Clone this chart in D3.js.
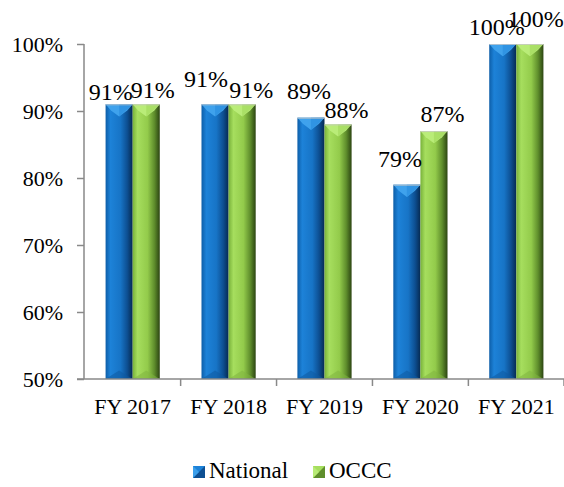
<!DOCTYPE html>
<html><head><meta charset="utf-8">
<script src="https://cdn.jsdelivr.net/npm/d3@7"></script>
<style>html,body{margin:0;padding:0;background:#fff;}svg{display:block;}
svg text{font-family:"Liberation Serif","DejaVu Serif","Times New Roman",serif;}</style>
</head><body>
<svg id="chart" width="564" height="487"></svg>
<script>
const categories = ["FY 2017","FY 2018","FY 2019","FY 2020","FY 2021"];
const seriesNames = ["National","OCCC"];
const national = [91, 91, 89, 79, 100];
const occc = [91, 91, 88, 87, 100];
const yTicks = [50, 60, 70, 80, 90, 100];

// layout / style constants
const W = 564, H = 487;
const plot = {left: 84, right: 565, top: 44, bottom: 379};
const labelNudge = { // [dx, gap above bar] per series per category
  National: [[-8.5,4],[-9,17],[-2,19],[-7,18],[-6,9]],
  OCCC: [[6.5,6],[9,6],[8.5,6],[8.6,9],[6,17]]
};
const palette = {
  National: {stops:["#0d5ea8","#1d82d8","#1774c6","#0d4f92","#062a52"], top:"#44a6f0", topEdge:"#2b8ee0", bottom:"#0f5aa0"},
  OCCC: {stops:["#78b23a","#a6de5e","#93cb4b","#5f8e2c","#2c4512"], top:"#bdee7c", topEdge:"#a4dc60", bottom:"#7fb43f"}
};

const svg = d3.select("#chart");
const defs = svg.append("defs");
seriesNames.forEach(s => {
  const g = defs.append("linearGradient").attr("id","grad-"+s).attr("x1","0").attr("x2","1").attr("y1","0").attr("y2","0");
  const offs = [0, 0.18, 0.55, 0.8, 1];
  palette[s].stops.forEach((c,i)=> g.append("stop").attr("offset",offs[i]).attr("stop-color",c));
});

const y = d3.scaleLinear().domain([50,100]).range([plot.bottom, plot.top]);
const x = d3.scaleBand().domain(categories).range([plot.left, plot.right]).paddingInner(0.435).paddingOuter(0.225);
const xs = d3.scaleBand().domain(seriesNames).range([0, x.bandwidth()]);

const data = categories.map((c,i)=>({cat:c, i, values:[{s:"National", v:national[i]},{s:"OCCC", v:occc[i]}]}));

// bars
const groups = svg.append("g").selectAll("g").data(data).join("g")
  .attr("transform", d=>`translate(${x(d.cat)},0)`);

groups.each(function(d){
  const g = d3.select(this);
  d.values.forEach(o=>{
    const bx = xs(o.s), bw = xs.bandwidth();
    const top = y(o.v), bot = y(50);
    const p = palette[o.s];
    g.append("rect").attr("x",bx).attr("y",top).attr("width",bw).attr("height",bot-top)
      .attr("fill",`url(#grad-${o.s})`);
    const depth = bw*0.45;
    g.append("path").attr("d",`M${bx},${top}L${bx+bw},${top}L${bx+bw*0.8},${top+depth*0.5}L${bx+bw/2},${top+depth}L${bx+bw*0.2},${top+depth*0.5}Z`)
      .attr("fill",p.top).attr("opacity",0.9);
    g.append("path").attr("d",`M${bx+bw/2},${top}L${bx+bw},${top}L${bx+bw/2},${top+depth}Z`)
      .attr("fill",p.topEdge).attr("opacity",0.7);
    g.append("path").attr("d",`M${bx},${bot}L${bx+bw/2},${bot-depth*0.7}L${bx+bw},${bot}Z`)
      .attr("fill",p.bottom).attr("opacity",0.55);
    g.append("line").attr("x1",bx).attr("x2",bx+bw).attr("y1",top+0.5).attr("y2",top+0.5)
      .attr("stroke","#c8c8c8").attr("stroke-width",0.8);
  });
});

// axes
const axisColor = "#898989";
svg.append("line").attr("x1",plot.left).attr("x2",plot.left).attr("y1",plot.top).attr("y2",plot.bottom)
  .attr("stroke",axisColor).attr("stroke-width",1.5);
svg.append("line").attr("x1",plot.left-7).attr("x2",plot.right).attr("y1",plot.bottom).attr("y2",plot.bottom)
  .attr("stroke",axisColor).attr("stroke-width",1.5);

const yAxis = svg.append("g").attr("transform",`translate(${plot.left},0)`)
  .call(d3.axisLeft(y).tickValues(yTicks).tickSize(7).tickPadding(14).tickFormat(d=>d+"%"));
yAxis.attr("font-family",null);
yAxis.select(".domain").remove();
yAxis.selectAll("line").attr("stroke",axisColor).attr("stroke-width",1.5);
yAxis.selectAll("text").style("font-size","22px").attr("fill","#000");

const bounds = categories.map(c=>x(c)-x.step()*x.paddingInner()/2).slice(1).concat([plot.right-1]);
svg.append("g").selectAll("line").data(bounds).join("line")
  .attr("x1",d=>d).attr("x2",d=>d).attr("y1",plot.bottom).attr("y2",plot.bottom+7)
  .attr("stroke",axisColor).attr("stroke-width",1.5);

svg.append("g").selectAll("text").data(categories).join("text")
  .attr("x",d=>x(d)+x.bandwidth()/2).attr("y",plot.bottom+35)
  .attr("text-anchor","middle").style("font-size","22px").attr("fill","#000")
  .text(d=>d);

// data labels
groups.each(function(d){
  const g = d3.select(this);
  d.values.forEach(o=>{
    const nd = labelNudge[o.s][d.i];
    g.append("text").attr("x",xs(o.s)+xs.bandwidth()/2+nd[0]).attr("y",y(o.v)-nd[1])
      .attr("text-anchor","middle").style("font-size","24px").attr("fill","#000")
      .text(o.v+"%");
  });
});

// legend
const legendItems = [{s:"National", x:193, tx:209},{s:"OCCC", x:313, tx:329}];
const lg = svg.append("g").selectAll("g").data(legendItems).join("g");
lg.each(function(d){
  const g = d3.select(this), p = palette[d.s], sz = 12, ly = 466;
  g.append("rect").attr("x",d.x).attr("y",ly).attr("width",sz).attr("height",sz).attr("fill",p.stops[3]);
  g.append("path").attr("d",`M${d.x},${ly}L${d.x+sz},${ly}L${d.x+sz/2},${ly+sz/2}L${d.x},${ly+sz}Z`).attr("fill",p.stops[1]);
  g.append("path").attr("d",`M${d.x},${ly}L${d.x+sz/2},${ly+sz/2}L${d.x},${ly+sz}Z`).attr("fill",p.top).attr("opacity",0.8);
  g.append("text").attr("x",d.tx).attr("y",ly+12).style("font-size","23px").attr("fill","#000").text(d.s);
});
</script>
</body></html>
